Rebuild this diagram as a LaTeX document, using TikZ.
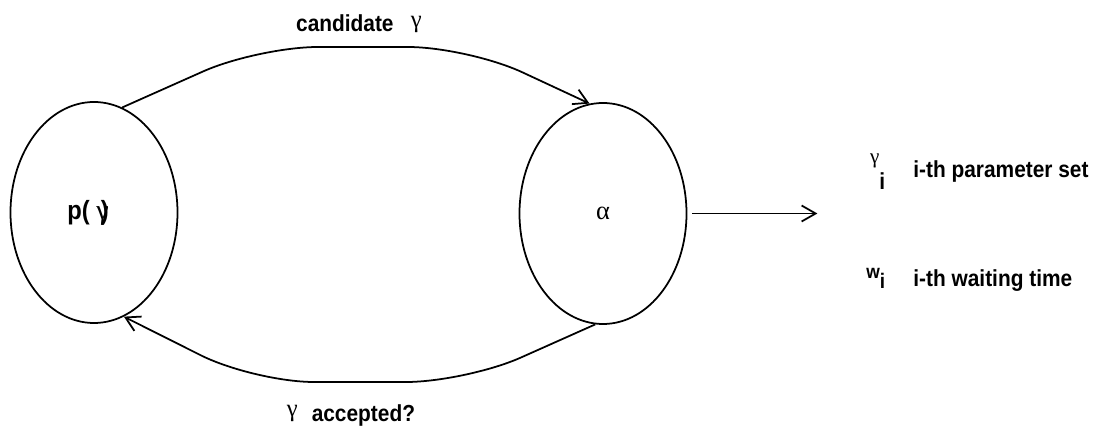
\documentclass[tikz,border=0pt]{standalone}
\usepackage{fontspec}
\setmainfont{Liberation Sans}[FakeStretch=0.9]
\newfontfamily\grk{Liberation Serif}
\usetikzlibrary{arrows.meta,positioning,shapes.geometric}
\tikzset{
  state/.style      = {draw, ellipse, line width=1pt, minimum width=3.34cm,
                       minimum height=4.42cm, inner sep=0pt},
  sig/.style        = {-{Straight Barb[length=2.8mm,width=3.2mm]}, line width=1pt},
  loopline/.style   = {sig, rounded corners=1.2cm},
  lbl/.style        = {font=\fontsize{13.2}{15}\selectfont\bfseries, inner sep=0pt},
}
\newcommand{\smallgam}{\raisebox{2.5pt}{\grk\mdseries\fontsize{14}{14}\selectfont γ}}

\begin{document}
\begin{tikzpicture}[x=0.2mm, y=-0.2mm]
  \useasboundingbox (0,0) rectangle (1100,431);
  \node[state] (prior)  at (94,212.5) {};
  \node[state] (accept) at (603,213.5) {\grk\fontsize{15}{15}\selectfont α};
  \node[lbl, font=\fontsize{15}{17}\selectfont\bfseries] (ptext) at (88,213)
    {p(\hspace{.25em}{\grk\mdseries\fontsize{16}{16}\selectfont γ}\kern-.3em)};
  % proposal and acceptance loop
  \draw[loopline] (prior.75) -- (258,47) -- (468,47) -- (accept.97);
  \draw[loopline] (accept.266) -- (466,382) -- (254,382) -- (prior.286);
  \node[lbl, anchor=base] (cand) at (359,32) {candidate\hspace{.75em}\smallgam};
  \node[lbl, anchor=base] (acc)  at (351,421) {\smallgam\hspace{.6em}accepted?};
  % output of the chain
  \coordinate[right=2.6cm of accept.east] (out);
  \draw[sig, shorten <=1mm] (accept.east) -- (out);
  \node[lbl, anchor=base west] (par) at (913,178) {i-th parameter set};
  \node[lbl, anchor=base east] (gi)  at ([xshift=-5.5mm]par.base west)
    {\raisebox{8pt}{\grk\mdseries\fontsize{12}{12}\selectfont γ}\raisebox{-6.5pt}{i}};
  \node[lbl, anchor=base west] (wait) at (913,287) {i-th waiting time};
  \node[lbl, anchor=base east] (wi)  at ([xshift=-5.5mm]wait.base west)
    {\raisebox{5pt}{\fontsize{11}{11}\selectfont w}\raisebox{-1pt}{\fontsize{12}{12}\selectfont i}};
\end{tikzpicture}
\end{document}
